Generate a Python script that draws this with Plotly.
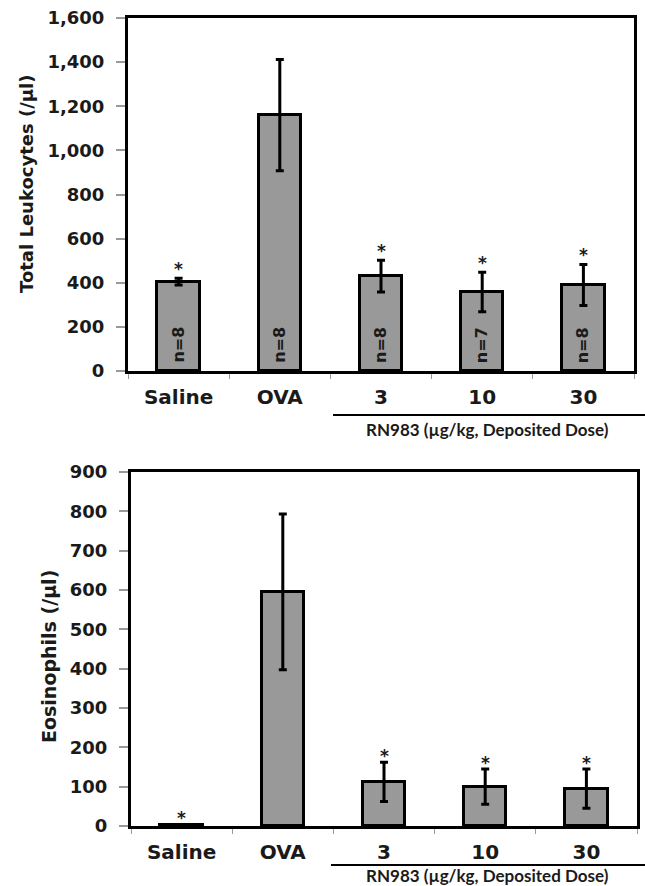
import plotly.graph_objects as go

categories = ["Saline", "OVA", "3", "10", "30"]
leuk = [405, 1160, 430, 358, 390]
leuk_err = [15, 252, 72, 90, 93]
eos = [3, 595, 112, 100, 95]
eos_err = [1, 198, 50, 45, 50]
leuk_sig = ["*", "", "*", "*", "*"]
eos_sig = ["*", "", "*", "*", "*"]
n_labels = ["n=8", "n=8", "n=8", "n=7", "n=8"]
n_label_y = 118
leuk_ticks = [0, 200, 400, 600, 800, 1000, 1200, 1400, 1600]
eos_ticks = [0, 100, 200, 300, 400, 500, 600, 700, 800, 900]
group_label = "RN983 (µg/kg, Deposited Dose)"

W, H = 645, 886
FONT = "DejaVu Sans"
BAR_FILL = "#999999"
TXT = "#1a1a1a"

fig = go.Figure()

def bar_trace(vals, errs, xa, ya):
    return go.Bar(
        x=categories, y=vals, xaxis=xa, yaxis=ya, width=0.42,
        marker=dict(color=BAR_FILL, line=dict(color="black", width=3)),
        error_y=dict(type="data", array=errs, visible=True, color="black",
                     thickness=3, width=4),
        showlegend=False, hoverinfo="skip",
    )

fig.add_trace(bar_trace(leuk, leuk_err, "x", "y"))
fig.add_trace(bar_trace(eos, eos_err, "x2", "y2"))

def px_dom_x(a, b):
    return [a / W, b / W]

def px_dom_y(top, bottom):
    return [(H - bottom) / H, (H - top) / H]

common_x = dict(
    type="category", range=[-0.5, 4.5], showline=True, mirror=True,
    linecolor="black", linewidth=3, ticks="outside", tickson="boundaries",
    ticklen=5, tickcolor="#999999", tickwidth=1, showgrid=False,
    tickfont=dict(family=FONT, size=20, color=TXT, weight="bold"),
    ticklabelstandoff=6, zeroline=False, fixedrange=True,
)
common_y = dict(
    showline=True, mirror=True, linecolor="black", linewidth=3,
    ticks="outside", ticklen=9, tickcolor="#999999", tickwidth=1.5,
    showgrid=False, zeroline=False,
    tickfont=dict(family=FONT, size=18, color=TXT, weight="bold"),
    ticklabelstandoff=8, fixedrange=True,
)

fig.update_layout(
    width=W, height=H, margin=dict(l=0, r=0, t=0, b=0, autoexpand=False),
    paper_bgcolor="white", plot_bgcolor="white", bargap=0,
    font=dict(family=FONT, color=TXT, weight="bold"),
    xaxis=dict(domain=px_dom_x(128, 634), anchor="y", **common_x),
    yaxis=dict(domain=px_dom_y(18, 371), anchor="x", range=[0, 1600],
               tickvals=leuk_ticks,
               ticktext=[f"{v:,}" for v in leuk_ticks], **common_y),
    xaxis2=dict(domain=px_dom_x(131, 637), anchor="y2", **common_x),
    yaxis2=dict(domain=px_dom_y(472, 826), anchor="x2", range=[0, 900],
                tickvals=eos_ticks,
                ticktext=[str(v) for v in eos_ticks], **common_y),
)

ann = []
# significance stars (x given as category index)
for i, (v, e, s) in enumerate(zip(leuk, leuk_err, leuk_sig)):
    if s:
        ann.append(dict(x=i, y=v + e, xref="x", yref="y", text=s,
                        showarrow=False, xanchor="center", yanchor="middle",
                        yshift=9,
                        font=dict(family=FONT, size=17, color=TXT, weight="bold")))
for i, (v, e, s) in enumerate(zip(eos, eos_err, eos_sig)):
    if s:
        ann.append(dict(x=i, y=v + e, xref="x2", yref="y2", text=s,
                        showarrow=False, xanchor="center", yanchor="middle",
                        yshift=6,
                        font=dict(family=FONT, size=17, color=TXT, weight="bold")))
# n labels inside bars
for i, n in enumerate(n_labels):
    ann.append(dict(x=i, y=n_label_y, xref="x", yref="y", text=n,
                    showarrow=False, textangle=-90, xanchor="center",
                    yanchor="middle",
                    font=dict(family=FONT, size=16, color=TXT, weight="bold")))
# axis titles
ann.append(dict(x=26 / W, y=(H - 184) / H, xref="paper", yref="paper",
                text="Total Leukocytes (/µl)", showarrow=False, textangle=-90,
                xanchor="center", yanchor="middle",
                font=dict(family=FONT, size=18, color=TXT, weight="bold")))
ann.append(dict(x=49 / W, y=(H - 657) / H, xref="paper", yref="paper",
                text="Eosinophils (/µl)", showarrow=False, textangle=-90,
                xanchor="center", yanchor="middle",
                font=dict(family=FONT, size=19, color=TXT, weight="bold")))
# group labels
for yc in (429, 875):
    ann.append(dict(x=487 / W, y=(H - yc) / H, xref="paper", yref="paper",
                    text=group_label, showarrow=False,
                    xanchor="center", yanchor="middle",
                    font=dict(family="Lato", size=17, color=TXT, weight="bold")))

fig.update_layout(annotations=ann)

fig.add_shape(type="line", xref="paper", yref="paper",
              x0=333 / W, x1=1.0, y0=(H - 415) / H, y1=(H - 415) / H,
              line=dict(color="black", width=2))
fig.add_shape(type="line", xref="paper", yref="paper",
              x0=331 / W, x1=1.0, y0=(H - 865) / H, y1=(H - 865) / H,
              line=dict(color="black", width=2))

fig.write_html(
    "out.html",
    config={"displayModeBar": False},
    post_script="document.body.style.margin='0';document.body.style.overflow='hidden';",
)
